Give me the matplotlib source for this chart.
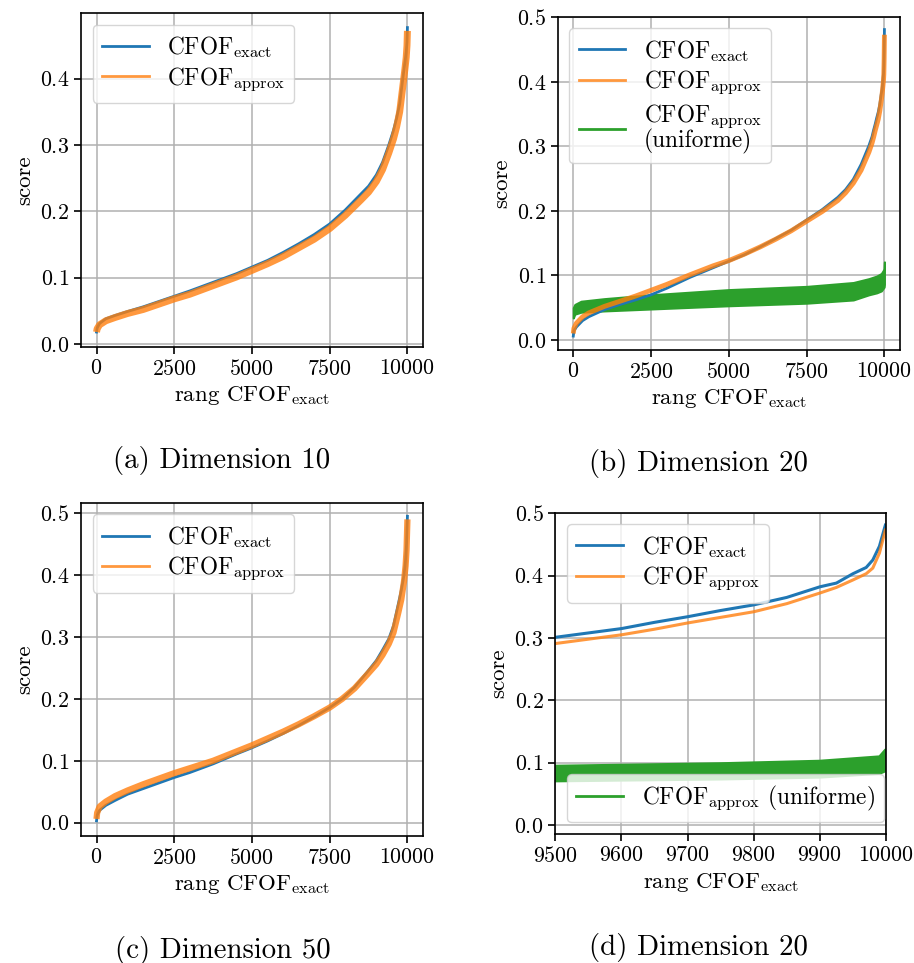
import matplotlib
matplotlib.use("Agg")
import matplotlib.pyplot as plt
from matplotlib.lines import Line2D

# LaTeX-like look without LaTeX
plt.rcParams['font.family'] = 'serif'
plt.rcParams['font.serif'] = ['cmr10']
plt.rcParams['mathtext.fontset'] = 'cm'
plt.rcParams['axes.formatter.use_mathtext'] = True
plt.rcParams['axes.unicode_minus'] = False
plt.rcParams['axes.linewidth'] = 1.2
plt.rcParams['xtick.major.width'] = 1.2
plt.rcParams['ytick.major.width'] = 1.2
plt.rcParams['xtick.major.size'] = 5
plt.rcParams['ytick.major.size'] = 5
plt.rcParams['grid.linewidth'] = 1.1
plt.rcParams['xtick.labelsize'] = 15.8
plt.rcParams['ytick.labelsize'] = 15.8
plt.rcParams['axes.labelsize'] = 16.5
plt.rcParams['legend.fontsize'] = 16.8
plt.rcParams['legend.labelspacing'] = 0.22

BLUE = '#1f77b4'
ORANGE = '#ff7f0e'
GREEN = '#2ca02c'

LBL_EXACT = r'CFOF$_{\mathrm{exact}}$'
LBL_APPROX = r'CFOF$_{\mathrm{approx}}$'
XLABEL = r'rang CFOF$_{\mathrm{exact}}$'

# Dimension 10 (sorted by exact rank)
rank_d10 = [0, 20, 100, 300, 600, 1000, 1500, 2000, 2500, 3000, 3750, 4500, 5000, 5500, 6000, 6500,
            7000, 7500, 8000, 8500, 8750, 9000, 9200, 9400, 9550, 9650, 9750, 9850, 9920, 9960, 9985, 9999]
exact_d10 = [0.018, 0.024, 0.031, 0.038, 0.043, 0.049, 0.056, 0.064, 0.072, 0.080, 0.093, 0.106, 0.116, 0.126,
             0.138, 0.151, 0.165, 0.181, 0.202, 0.226, 0.238, 0.255, 0.274, 0.300, 0.322, 0.340, 0.362,
             0.400, 0.425, 0.440, 0.455, 0.477]
approx_d10 = [0.018, 0.023, 0.029, 0.035, 0.040, 0.046, 0.052, 0.060, 0.068, 0.075, 0.088, 0.101, 0.111, 0.121,
              0.132, 0.145, 0.158, 0.174, 0.194, 0.217, 0.229, 0.245, 0.263, 0.288, 0.309, 0.327, 0.350,
              0.388, 0.415, 0.432, 0.450, 0.472]

# Dimension 20
rank_d20 = [0, 20, 100, 300, 500, 1000, 1500, 2000, 2500, 3000, 3750, 4500, 5000, 5500, 6000, 6500, 7000,
            7500, 8000, 8500, 8750, 9000, 9250, 9500, 9600, 9650, 9700, 9750, 9800, 9850, 9900, 9925,
            9950, 9970, 9980, 9990, 9999]
exact_d20 = [0.006, 0.014, 0.020, 0.030, 0.036, 0.047, 0.055, 0.062, 0.070, 0.080, 0.097, 0.112, 0.122, 0.132,
             0.144, 0.157, 0.170, 0.186, 0.202, 0.221, 0.233, 0.249, 0.272, 0.301, 0.315, 0.325, 0.334,
             0.344, 0.353, 0.365, 0.382, 0.388, 0.403, 0.413, 0.425, 0.447, 0.481]
approx_d20 = [0.010, 0.018, 0.026, 0.036, 0.042, 0.052, 0.060, 0.068, 0.077, 0.086, 0.101, 0.115, 0.123, 0.133,
              0.144, 0.156, 0.169, 0.184, 0.199, 0.216, 0.228, 0.243, 0.263, 0.291, 0.305, 0.314, 0.324,
              0.333, 0.342, 0.355, 0.372, 0.381, 0.393, 0.403, 0.412, 0.436, 0.473]
rank_unif = [0, 50, 250, 1000, 2500, 5000, 7500, 9000, 9250, 9500, 9750, 9900, 9990, 9999]
unif_high = [0.050, 0.055, 0.060, 0.064, 0.070, 0.078, 0.083, 0.089, 0.092, 0.095, 0.099, 0.103, 0.110, 0.121]
unif_low = [0.034, 0.040, 0.043, 0.045, 0.048, 0.053, 0.057, 0.062, 0.066, 0.070, 0.073, 0.076, 0.082, 0.086]

# Dimension 50
rank_d50 = [0, 20, 100, 300, 600, 1000, 1500, 2000, 2500, 3000, 3750, 4500, 5000, 5500, 6000, 6500, 7000,
            7500, 7900, 8300, 8700, 9000, 9200, 9400, 9550, 9700, 9800, 9890, 9940, 9970, 9999]
exact_d50 = [0.003, 0.012, 0.020, 0.028, 0.036, 0.046, 0.055, 0.064, 0.073, 0.081, 0.095, 0.111, 0.121, 0.132,
             0.144, 0.157, 0.171, 0.186, 0.200, 0.219, 0.243, 0.262, 0.279, 0.297, 0.318, 0.352, 0.375,
             0.400, 0.425, 0.450, 0.495]
approx_d50 = [0.006, 0.016, 0.026, 0.034, 0.043, 0.052, 0.062, 0.071, 0.080, 0.088, 0.100, 0.115, 0.125, 0.136,
              0.147, 0.159, 0.172, 0.186, 0.200, 0.217, 0.239, 0.256, 0.271, 0.289, 0.307, 0.338, 0.360,
              0.390, 0.415, 0.440, 0.490]

full_ticks = [0, 2500, 5000, 7500, 10000]
zoom_ticks = [9500, 9600, 9700, 9800, 9900, 10000]
captions = ['(a) Dimension 10', '(b) Dimension 20', '(c) Dimension 50', '(d) Dimension 20']


def style_axes(ax, xlim, ylim, xticks):
    ax.set_xlim(xlim)
    ax.set_ylim(ylim)
    ax.set_xticks(xticks)
    ax.grid(True)
    ax.set_axisbelow(True)
    ax.set_xlabel(XLABEL)
    ax.set_ylabel('score')


def proxy(color, alpha=1.0):
    return Line2D([], [], color=color, lw=2, alpha=alpha)


fig = plt.figure(figsize=(9.14, 9.63), dpi=100)

# (a)
ax = fig.add_axes([0.0886, 0.6397, 0.3742, 0.3468])
ax.plot(rank_d10, exact_d10, color=BLUE, lw=2)
ax.plot(rank_d10, approx_d10, color=ORANGE, lw=5, alpha=0.8, solid_capstyle='butt')
style_axes(ax, (-500, 10500), (-0.0045, 0.499), full_ticks)
ax.legend([proxy(BLUE), proxy(ORANGE, 0.8)], [LBL_EXACT, LBL_APPROX], loc='upper left')

# (b)
ax = fig.add_axes([0.6102, 0.6366, 0.3745, 0.3461])
ax.plot(rank_d20, exact_d20, color=BLUE, lw=2)
ax.plot(rank_d20, approx_d20, color=ORANGE, lw=3.5, alpha=0.8, solid_capstyle='butt')
ax.fill_between(rank_unif, unif_low, unif_high, color=GREEN, lw=1.5, edgecolor=GREEN)
style_axes(ax, (-500, 10500), (-0.0155, 0.501), full_ticks)
leg = ax.legend([proxy(BLUE), proxy(ORANGE, 0.8), proxy(GREEN)],
                [LBL_EXACT, LBL_APPROX, LBL_APPROX + '\n(uniforme)'], loc='upper left')
leg.get_texts()[2].set_linespacing(0.9)

# (c)
ax = fig.add_axes([0.0886, 0.1319, 0.3742, 0.3461])
ax.plot(rank_d50, exact_d50, color=BLUE, lw=2)
ax.plot(rank_d50, approx_d50, color=ORANGE, lw=4.5, alpha=0.8, solid_capstyle='butt')
style_axes(ax, (-500, 10500), (-0.0215, 0.517), full_ticks)
ax.legend([proxy(BLUE), proxy(ORANGE, 0.8)], [LBL_EXACT, LBL_APPROX], loc='upper left')

# (d) zoom on the top ranks
ax = fig.add_axes([0.6076, 0.1340, 0.3618, 0.3337])
ax.plot(rank_d20, exact_d20, color=BLUE, lw=2.2)
ax.plot(rank_d20, approx_d20, color=ORANGE, lw=2.2, alpha=0.8)
ax.fill_between(rank_unif, unif_low, unif_high, color=GREEN, lw=1.5, edgecolor=GREEN)
style_axes(ax, (9500, 10000), (-0.0144, 0.501), zoom_ticks)
leg1 = ax.legend([proxy(BLUE), proxy(ORANGE, 0.8)], [LBL_EXACT, LBL_APPROX], loc='upper left')
ax.add_artist(leg1)
ax.legend([proxy(GREEN)], [LBL_APPROX + ' (uniforme)'], loc='lower left')

# sub-captions
cap_pos = [(221.7, 460), (698, 463), (222.5, 950), (698, 947)]
for (px, py), txt in zip(cap_pos, captions):
    fig.text(px / 914, 1 - py / 963, txt, ha='center', va='center', fontsize=20.8)

fig.savefig('out.png', dpi=100)
